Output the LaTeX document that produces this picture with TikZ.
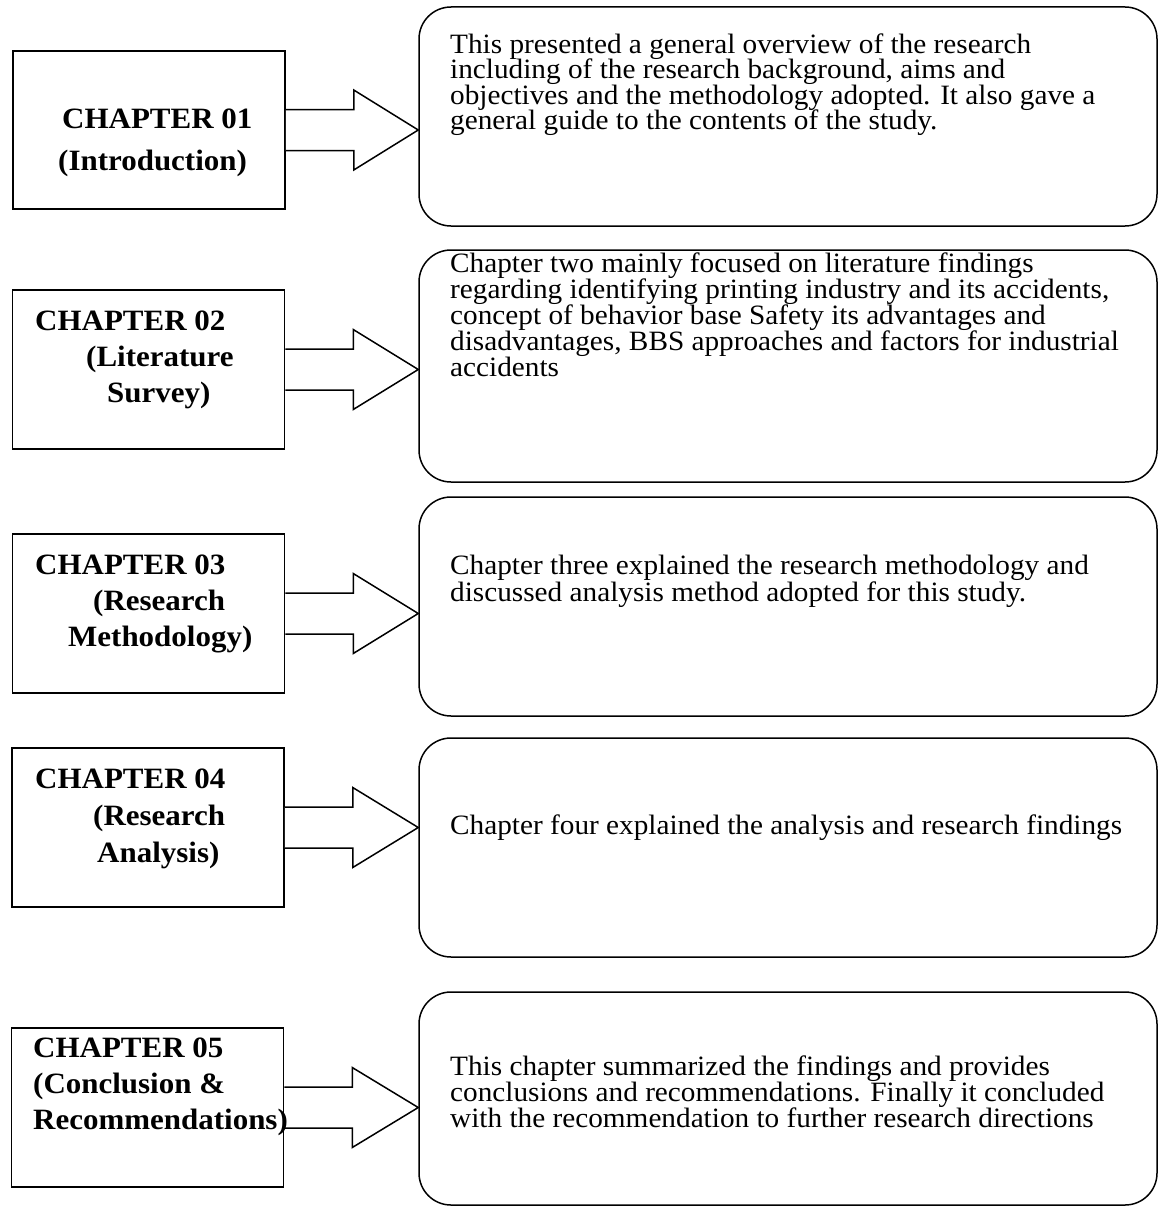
\documentclass[tikz,border=0pt]{standalone}
\usepackage{fontspec}
\setmainfont{Liberation Serif}
\newfontfamily\bodyfont[FakeStretch=1.045]{Liberation Serif}
\newfontfamily\labelfont[FakeStretch=1.05]{Liberation Serif}
\usetikzlibrary{calc}
\begin{document}
\begin{tikzpicture}[x=1pt,y=-1pt,
  chapbox/.style={draw,line width=1.5pt,rectangle,inner sep=0pt,minimum width=272pt},
  descbox/.style={draw,line width=1.5pt,rectangle,rounded corners=32pt,inner sep=0pt,minimum width=738pt},
  % multi-line text nodes: the base anchor sits on the last line
  chaplabel/.style={anchor=base west,inner sep=0pt,align=left,
    font={\labelfont\bfseries\fontsize{29.5}{36}\selectfont}},
  desctext/.style={anchor=base west,inner sep=0pt,align=left,
    font={\bodyfont\fontsize{28}{26}\selectfont}},
  fatarrow/.style={draw,line width=1.5pt,line join=miter,fill=white}]
\useasboundingbox (0,0) rectangle (1161,1207);

% chapter boxes
\node[chapbox,minimum height=158pt] (c1) at (149,130) {};
\node[chapbox,minimum height=159pt] (c2) at (148.5,369.5) {};
\node[chapbox,minimum height=159pt] (c3) at (148.5,613.5) {};
\node[chapbox,minimum height=159pt] (c4) at (148,827.5) {};
\node[chapbox,minimum height=159pt] (c5) at (147.5,1107.5) {};

% description boxes
\node[descbox,minimum height=219pt] (d1) at (788,116.5) {};
\node[descbox,minimum height=232pt] (d2) at (788,366) {};
\node[descbox,minimum height=219pt] (d3) at (788,606.5) {};
\node[descbox,minimum height=219pt] (d4) at (788,847.5) {};
\node[descbox,minimum height=213pt] (d5) at (788,1098.5) {};

% block arrows from each chapter box to its description
\foreach \i in {1,...,5}{
  \draw[fatarrow] ($(c\i.east)+(0,-20.5)$) -- ($(c\i.east)+(68,-20.5)$)
    -- ($(c\i.east)+(68,-40)$) -- (c\i.east -| d\i.west)
    -- ($(c\i.east)+(68,40)$) -- ($(c\i.east)+(68,20.5)$)
    -- ($(c\i.east)+(0,20.5)$);
}

% chapter labels
\node[chaplabel] (l1) at (62,170) {CHAPTER 01\\[6pt]\hspace*{-4pt}(Introduction)};
\node[chaplabel] (l2) at (35,402) {CHAPTER 02\\\hspace*{51pt}(Literature\\\hspace*{72pt}Survey)};
\node[chaplabel] (l3) at (35,646) {CHAPTER 03\\\hspace*{58pt}(Research\\\hspace*{33pt}Methodology)};
\node[chaplabel] (l4) at (35,862) {CHAPTER 04\\[1pt]\hspace*{58pt}(Research\\[1pt]\hspace*{62pt}Analysis)};
\node[chaplabel] (l5) at (33,1129) {CHAPTER 05\\(Conclusion \&\\Recommendations)};

% descriptions
\node[desctext] (t1) at (450,129.5) {This presented a general overview of the research\\[-0.5pt]
including of the research background, aims and\\[-0.5pt]
objectives and the methodology adopted. It also gave a\\[-0.5pt]
general guide to the contents of the study.};
\node[desctext] (t2) at (450,376) {Chapter two mainly focused on literature findings\\
regarding identifying printing industry and its accidents,\\
concept of behavior base Safety its advantages and\\
disadvantages, BBS approaches and factors for industrial\\
accidents};
\node[desctext] (t3) at (450,601) {Chapter three explained the research methodology and\\[1pt]
discussed analysis method adopted for this study.};
\node[desctext] (t4) at (450,834) {Chapter four explained the analysis and research findings};
\node[desctext] (t5) at (450,1127) {This chapter summarized the findings and provides\\
conclusions and recommendations. Finally it concluded\\
with the recommendation to further research directions};
\end{tikzpicture}
\end{document}
